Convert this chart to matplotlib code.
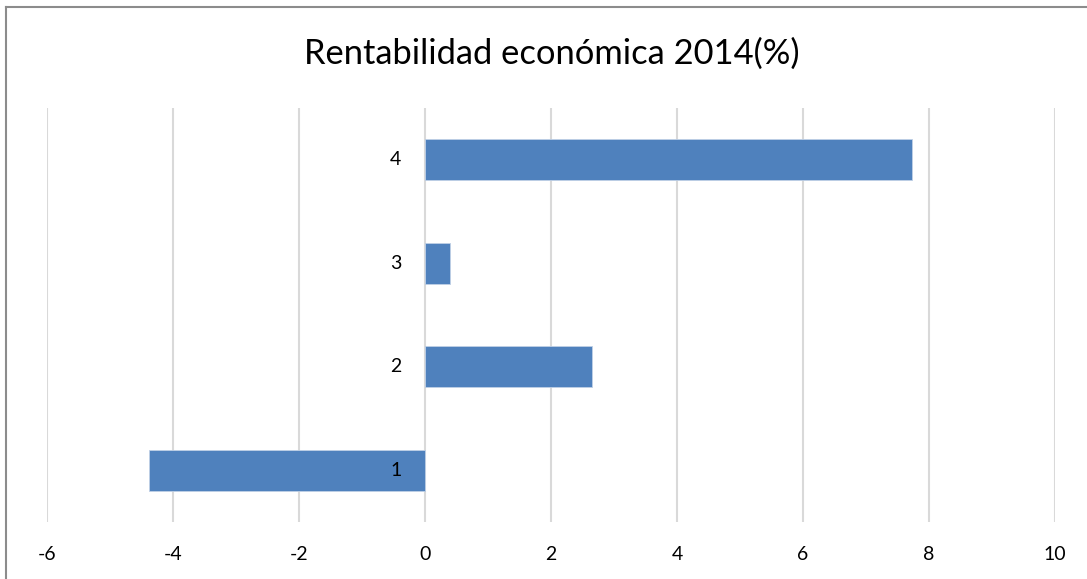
import numpy as np
import matplotlib.pyplot as plt
from matplotlib.lines import Line2D

categories = ['1', '2', '3', '4']
values = [-4.38, 2.65, 0.39, 7.73]
xticks = [-6, -4, -2, 0, 2, 4, 6, 8, 10]
title = 'Rentabilidad económica 2014(%)'

plt.rcParams['font.family'] = ['Lato', 'DejaVu Sans']

W, H = 1087, 579
fig = plt.figure(figsize=(W / 100, H / 100), dpi=100)
ax = fig.add_axes([47 / W, 1 - 522 / H, (1055 - 47) / W, (522 - 108) / H])

pos = np.arange(len(categories))
ax.barh(pos, values, height=0.4, color='#4f81bd', edgecolor='#c0d0e6',
        linewidth=0.6, zorder=3)

# category labels sit next to the zero line, like Excel's "next to axis"
for p, c in zip(pos, categories):
    ax.annotate(c, xy=(0, p), xytext=(-17, 0), textcoords='offset points',
                ha='right', va='center', fontsize=14, color='black', zorder=4)

ax.set_xlim(-6, 10)
ax.set_ylim(-0.5, len(categories) - 0.5)
ax.set_xticks(xticks)
ax.set_xticklabels([str(t) for t in xticks], fontsize=14)
ax.set_yticks([])
ax.tick_params(axis='x', length=0, pad=17)
ax.grid(axis='x', color='#d9d9d9', linewidth=1.5, zorder=0)
for s in ax.spines.values():
    s.set_visible(False)

fig.text(552 / W, 1 - 54 / H, title, ha='center', va='center', fontsize=24.8)

# outer chart border (top and left visible)
fig.add_artist(Line2D([6 / W, 1], [1 - 7 / H, 1 - 7 / H], color='#8c8c8c', linewidth=1.5))
fig.add_artist(Line2D([6 / W, 6 / W], [0, 1 - 7 / H], color='#8c8c8c', linewidth=1.5))

fig.savefig('out.png', dpi=100)
